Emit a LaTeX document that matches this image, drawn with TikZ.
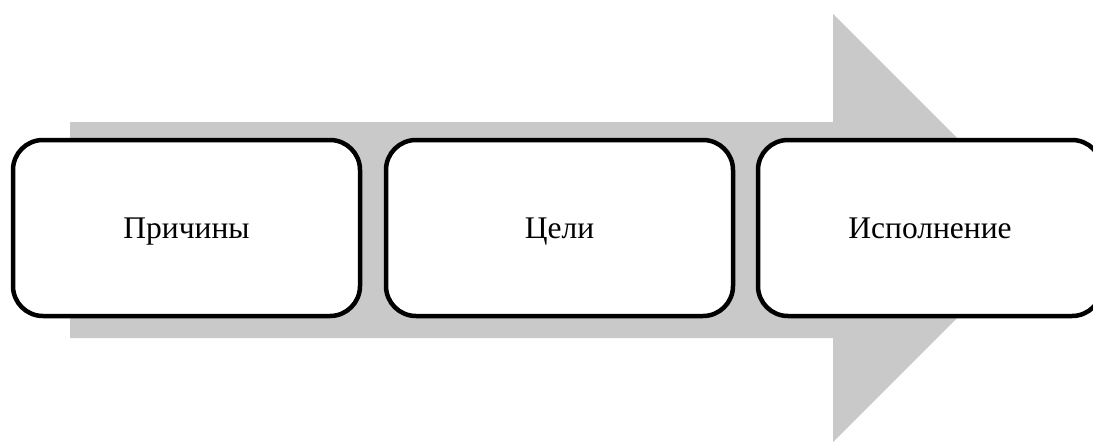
\documentclass[tikz,border=0pt]{standalone}
\usepackage{fontspec}
\setmainfont{Liberation Serif}
\begin{document}
\begin{tikzpicture}[x=1pt,y=-1pt,
  stage/.style={draw=black,line width=4.5pt,rounded corners=30pt,fill=white,
    minimum width=#1,minimum height=176pt,inner sep=0pt,text height=24pt,text depth=4pt,
    font=\fontsize{31.5}{36}\selectfont},
  stage/.default=346pt]
\useasboundingbox (0,0) rectangle (1093,442);
\fill[fill={rgb,255:red,201;green,201;blue,201}]
  (70,122) -- (833,122) -- (833,14) -- (1047,228) -- (833,442) -- (833,338) -- (70,338) -- cycle;
\node[stage=347pt] (a) at (186.5,228) {Причины};
\node[stage=347pt] (b) at (559.5,228) {Цели};
\node[stage=344pt] (c) at (930,228) {Исполнение};
\end{tikzpicture}
\end{document}
